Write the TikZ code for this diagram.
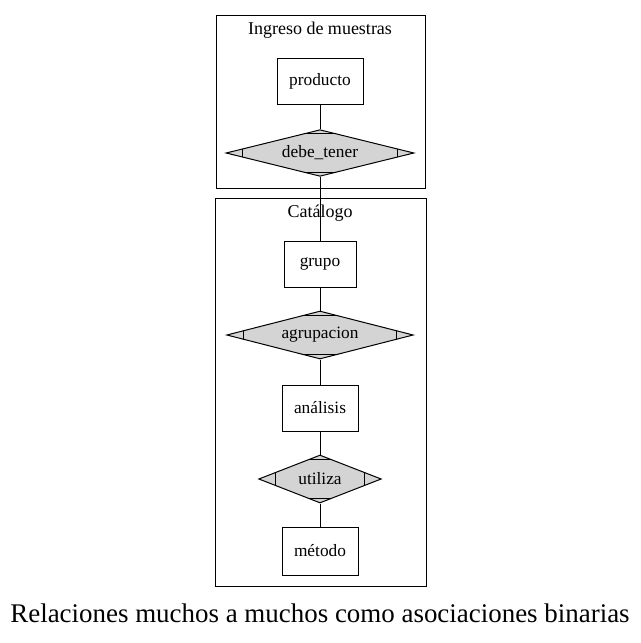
\documentclass[tikz,border=0pt]{standalone}
\usepackage{fontspec}
\setmainfont{Liberation Serif}
\usetikzlibrary{shapes.geometric}
\tikzset{
    entidad/.style={draw, line width=0.75pt, minimum height=34.5pt, inner sep=0pt, font=\fontsize{13}{15}\selectfont},
    relacion/.style={draw, line width=0.75pt, diamond, shape aspect=4, fill=black!17, inner sep=0pt, minimum height=35pt, font=\fontsize{13}{15}\selectfont,
        path picture={
            \draw[line width=0.75pt] ([xshift=12.5pt]path picture bounding box.south west) -- ([xshift=12.5pt]path picture bounding box.north west);
            \draw[line width=0.75pt] ([xshift=-12.5pt]path picture bounding box.south east) -- ([xshift=-12.5pt]path picture bounding box.north east);
            \draw[line width=0.75pt] ([yshift=-3pt]path picture bounding box.north west) -- ([yshift=-3pt]path picture bounding box.north east);
            \draw[line width=0.75pt] ([yshift=3pt]path picture bounding box.south west) -- ([yshift=3pt]path picture bounding box.south east);
        }},
    grupo/.style={draw, line width=0.75pt}
}
\begin{document}
\begin{tikzpicture}[x=0.75pt, y=-0.75pt]
                        \useasboundingbox (0,0) rectangle (641,643);
                        \draw [grupo] (216,15) rectangle (425,188);
                        \draw [grupo] (215,198) rectangle (426,586);
                        \node (ingreso) at (320,30) {\fontsize{13.5}{15}\selectfont Ingreso de muestras};
                        \node (catalogo) at (320,213) {\fontsize{13.5}{15}\selectfont Catálogo};
                        \node [entidad, minimum width=64.5pt] (producto) at (320,81) {producto};
                        \node [relacion, minimum width=141pt] (debe) at (320,153) {debe\_tener};
                        \node [relacion, minimum width=140pt, minimum height=36pt] (agrupacion) at (320,335) {agrupacion};
                        \node [entidad, minimum width=54pt] (grupo) at (320,264) {grupo};
                        \node [entidad, minimum width=57pt] (analisis) at (320,408) {análisis};
                        \node [relacion, minimum width=92pt, minimum height=36pt] (utiliza) at (320,479) {utiliza};
                        \node [entidad, minimum width=57pt, minimum height=36pt] (metodo) at (320,551) {método};
                        \draw [line width=0.75pt] (producto) -- (debe);
                        \draw [line width=0.75pt] (debe) -- (grupo);
                        \draw [line width=0.75pt] (grupo) -- (agrupacion);
                        \draw [line width=0.75pt] (agrupacion) -- (analisis);
                        \draw [line width=0.75pt] (analisis) -- (utiliza);
                        \draw [line width=0.75pt] (utiliza) -- (metodo);
                        \node (titulo) at (320,613) {\fontsize{20.2}{24}\selectfont Relaciones muchos a muchos como asociaciones binarias};
                    \end{tikzpicture}
\end{document}
